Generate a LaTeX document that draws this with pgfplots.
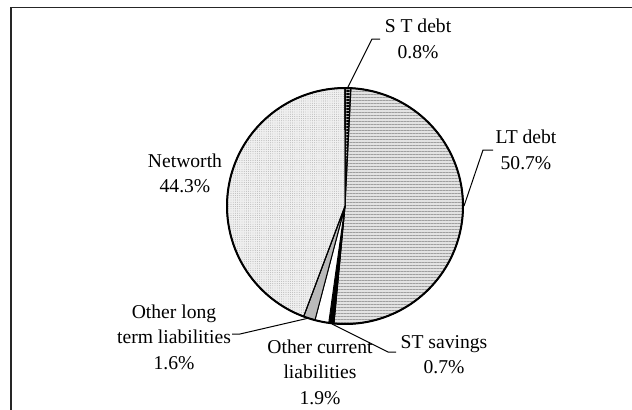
\documentclass[border=0pt]{standalone}
\usepackage{fontspec}
\setmainfont{Liberation Serif}
\usepackage{pgfplots}
\pgfplotsset{compat=1.18}
\usetikzlibrary{patterns.meta}
\newcommand{\pieslice}[3]{%
  \addplot[draw=black, line width=0.5pt, #3, domain=#1:#2, samples=80, variable=\t]
    ({345+118*sin(3.6*\t)},{206-118*cos(3.6*\t)}) -- (axis cs:345,206) -- cycle;}
\begin{document}
\fontsize{9.8}{12.8}\selectfont
\begin{tikzpicture}
\useasboundingbox (0,0) rectangle (316pt,204.5pt);
\begin{axis}[at={(0,0)}, anchor=south west, scale only axis,
  width=316pt, height=204.5pt, xmin=0, xmax=632, ymin=0, ymax=409,
  y dir=reverse, hide axis, clip=false]
% frame
\addplot[black!85, line width=0.8pt] coordinates {(11,440) (11,7.5) (660,7.5)};
% slices (percent, clockwise from top): 0.8, 50.7, 0.7, 1.9, 1.6, 44.3
\pieslice{0}{0.8}{fill=gray!55, postaction={pattern={Lines[angle=0,distance=1.5pt,line width=0.6pt]}, pattern color=black}}
\pieslice{0.8}{51.5}{fill=gray!22, postaction={pattern={Lines[angle=0,distance=1.5pt,line width=0.5pt]}, pattern color=gray!75}}
\pieslice{51.5}{52.2}{fill=black}
\pieslice{52.2}{54.1}{fill=white}
\pieslice{54.1}{55.7}{fill=gray!55}
\pieslice{55.7}{100}{fill=gray!12, postaction={pattern={Dots[distance=1.1pt,radius=0.22pt]}, pattern color=gray!75}}
% outline
\addplot[black, line width=1pt, domain=0:100, samples=240, variable=\t]
  ({345+118*sin(3.6*\t)},{206-118*cos(3.6*\t)});
% leader lines
\addplot[black, line width=0.5pt] coordinates {(380,39) (372,39) (347,89)};
\addplot[black, line width=0.5pt] coordinates {(493,150) (483,150) (464,206)};
\addplot[black, line width=0.5pt] coordinates {(332,324) (388,352) (396,352)};
\addplot[black, line width=0.5pt] coordinates {(232,334) (240,334) (309,318)};
% labels
\node[align=center, inner sep=0pt] at (axis cs:418,39) {S T debt\\0.8\%};
\node[align=center, inner sep=0pt] at (axis cs:526,150) {LT debt\\50.7\%};
\node[align=center, inner sep=0pt] at (axis cs:444,354.5) {ST savings\\0.7\%};
\node[align=center, inner sep=0pt] at (axis cs:320,372) {Other current\\liabilities\\1.9\%};
\node[align=center, inner sep=0pt] at (axis cs:174,337) {Other long\\term liabilities\\1.6\%};
\node[align=center, inner sep=0pt] at (axis cs:185,173.5) {Networth\\44.3\%};
\end{axis}
\end{tikzpicture}
\end{document}
